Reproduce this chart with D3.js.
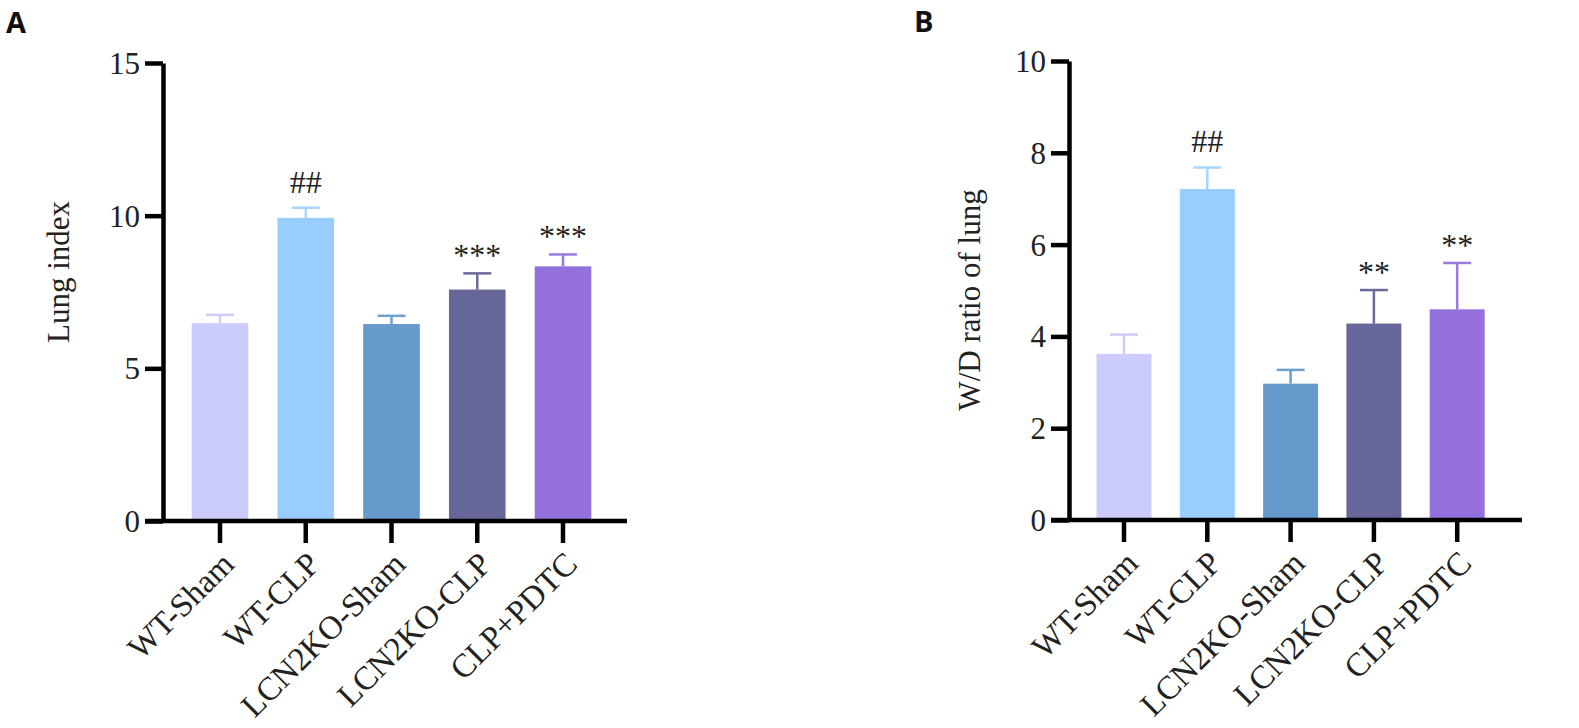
<!DOCTYPE html>
<meta charset="utf-8">
<style>
body { margin: 0; background: #fff; }
svg { display: block; }
.axis path, .axis line { stroke: #000; stroke-width: 4.5px; }
.axis text { font-family: 'Liberation Serif', serif; font-size: 31px; fill: #222; }
.axis.xa text { font-size: 33px; }
.ylab { font-family: 'Liberation Serif', serif; font-size: 31px; fill: #222; }
.sig { font-family: 'Liberation Serif', serif; font-size: 32px; fill: #222; }
.panel { font-family: 'Open Sans', sans-serif; font-weight: bold; font-size: 29px; fill: #111; }
</style>
<body>
<script src="https://d3js.org/d3.v7.min.js"></script>
<script>

var categories = ["WT-Sham", "WT-CLP", "LCN2KO-Sham", "LCN2KO-CLP", "CLP+PDTC"];
var barColors = ["#ccccfc", "#99ccff", "#6699cc", "#666699", "#9370db"];
var errColors = ["#ccccf8", "#a8d4ff", "#6e9fd0", "#6a6a9c", "#9a7ade"];

// panel A: lung index
var lungMean = [6.48, 9.93, 6.45, 7.58, 8.34];
var lungErr = [0.27, 0.33, 0.27, 0.53, 0.39];
var lungMarks = ["", "##", "", "***", "***"];
var lungTicks = [0, 5, 10, 15];

// panel B: wet/dry ratio
var wdMean = [3.62, 7.21, 2.97, 4.28, 4.59];
var wdErr = [0.42, 0.47, 0.30, 0.73, 1.01];
var wdMarks = ["", "##", "", "**", "**"];
var wdTicks = [0, 2, 4, 6, 8, 10];

var svg = d3.select("body").append("svg")
    .attr("width", 1579)
    .attr("height", 728);

drawPanel({
    letter: "A", letterX: 6, letterY: 33,
    x0: 163, xEnd: 627, first: 220, step: 85.75,
    top: 63, bottom: 521,
    max: 15, ticks: lungTicks,
    mean: lungMean, err: lungErr, marks: lungMarks,
    label: "Lung index", labelX: 69, labelY: 272
});

drawPanel({
    letter: "B", letterX: 914, letterY: 32,
    x0: 1069, xEnd: 1522, first: 1124, step: 83.3,
    top: 61, bottom: 520,
    max: 10, ticks: wdTicks,
    mean: wdMean, err: wdErr, marks: wdMarks,
    label: "W/D ratio of lung", labelX: 980, labelY: 300
});

function drawPanel(p) {
    var g = svg.append("g");

    var y = d3.scaleLinear()
        .domain([0, p.max])
        .range([p.bottom, p.top]);

    var x = d3.scaleBand()
        .domain(categories)
        .range([p.first - p.step / 2, p.first + p.step * 4.5])
        .paddingInner(0.34)
        .paddingOuter(0.17);

    var rows = categories.map(function(c, i) {
        return { cat: c, mean: p.mean[i], err: p.err[i], mark: p.marks[i], i: i };
    });

    // bars
    g.selectAll("rect.bar")
        .data(rows)
        .enter().append("rect")
        .attr("class", "bar")
        .attr("x", function(d) { return x(d.cat); })
        .attr("width", x.bandwidth())
        .attr("y", function(d) { return y(d.mean); })
        .attr("height", function(d) { return y(0) - y(d.mean); })
        .style("fill", function(d) { return barColors[d.i]; });

    // error bars (upper only)
    var eb = g.selectAll("g.err")
        .data(rows)
        .enter().append("g")
        .attr("class", "err")
        .style("stroke", function(d) { return errColors[d.i]; })
        .style("stroke-width", 2.5);

    eb.append("line")
        .attr("x1", function(d) { return x(d.cat) + x.bandwidth() / 2; })
        .attr("x2", function(d) { return x(d.cat) + x.bandwidth() / 2; })
        .attr("y1", function(d) { return y(d.mean); })
        .attr("y2", function(d) { return y(d.mean + d.err); });

    eb.append("line")
        .attr("x1", function(d) { return x(d.cat) + x.bandwidth() / 2 - 14; })
        .attr("x2", function(d) { return x(d.cat) + x.bandwidth() / 2 + 14; })
        .attr("y1", function(d) { return y(d.mean + d.err); })
        .attr("y2", function(d) { return y(d.mean + d.err); });

    // significance marks
    g.selectAll("text.sig")
        .data(rows.filter(function(d) { return d.mark; }))
        .enter().append("text")
        .attr("class", "sig")
        .attr("text-anchor", "middle")
        .attr("x", function(d) { return x(d.cat) + x.bandwidth() / 2; })
        .attr("y", function(d) {
            return y(d.mean + d.err) - (d.mark[0] == "#" ? 15 : 7);
        })
        .text(function(d) { return d.mark; });

    // y axis
    var yAxis = g.append("g")
        .attr("class", "axis")
        .attr("transform", "translate(" + p.x0 + ",0)")
        .call(d3.axisLeft(y).tickValues(p.ticks).tickSize(18).tickSizeOuter(0).tickPadding(5));
    yAxis.selectAll(".tick text").attr("dy", "0.34em");

    // x axis
    var xAxis = g.append("g")
        .attr("class", "axis xa")
        .attr("transform", "translate(0," + p.bottom + ")")
        .call(d3.axisBottom(x).tickSize(22).tickSizeOuter(0));
    xAxis.select(".domain").remove();
    xAxis.append("line")
        .attr("x1", p.x0 - 18)
        .attr("x2", p.xEnd)
        .attr("y1", 0)
        .attr("y2", 0);
    xAxis.selectAll(".tick text")
        .attr("text-anchor", "end")
        .attr("dy", null)
        .attr("y", null)
        .attr("transform", "translate(16,45) rotate(-45)");

    // y label
    g.append("text")
        .attr("class", "ylab")
        .attr("text-anchor", "middle")
        .attr("transform", "translate(" + p.labelX + "," + p.labelY + ") rotate(-90)")
        .text(p.label);

    g.append("text")
        .attr("class", "panel")
        .attr("x", p.letterX)
        .attr("y", p.letterY)
        .text(p.letter);
}

</script>
</body>
